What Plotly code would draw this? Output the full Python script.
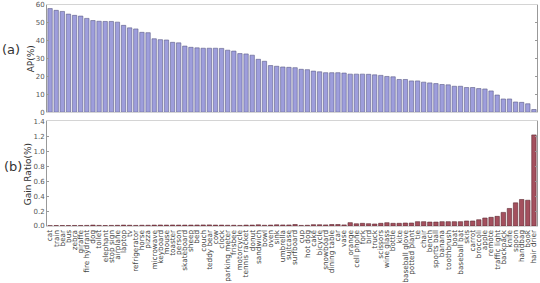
import plotly.graph_objects as go
from plotly.subplots import make_subplots

categories = ["cat", "train", "bear", "bus", "zebra", "giraffe", "fire hydrant", "dog", "toilet",
              "elephant", "stop sign", "airplane", "laptop", "tv", "refrigerator", "horse", "pizza",
              "microwave", "keyboard", "mouse", "toaster", "person", "skateboard", "sheep", "bed",
              "couch", "teddy bear", "cow", "clock", "parking meter", "frisbee", "motorcycle",
              "tennis racket", "donut", "sandwich", "bowl", "oven", "sink", "umbrella", "suitcase",
              "surfboard", "cup", "hot dog", "cake", "bicycle", "snowboard", "dining table", "car",
              "vase", "orange", "cell phone", "fork", "bird", "truck", "scissors", "wine glass",
              "bottle", "kite", "baseball glove", "potted plant", "tie", "chair", "bench",
              "sports ball", "banana", "toothbrush", "boat", "baseball bat", "skis", "carrot",
              "broccoli", "apple", "remote", "traffic light", "backpack", "knife", "spoon",
              "handbag", "book", "hair drier"]

ap_values = [58.0, 57.0, 56.4, 54.9, 54.2, 53.8, 52.5, 51.3, 50.9, 50.8, 50.8, 50.4, 48.6, 47.2,
             46.6, 44.7, 44.5, 41.1, 40.6, 40.4, 39.1, 38.8, 37.0, 36.3, 36.0, 35.8, 35.8, 35.8,
             35.7, 34.7, 34.2, 32.8, 32.6, 31.9, 29.6, 28.5, 26.1, 25.7, 25.3, 25.1, 24.9, 24.0,
             23.8, 23.0, 22.6, 22.1, 22.1, 22.1, 21.9, 21.3, 21.3, 21.3, 21.2, 20.9, 20.6, 20.0,
             19.8, 18.3, 18.3, 17.5, 17.5, 16.8, 16.4, 16.0, 15.5, 15.3, 14.5, 14.5, 13.8, 13.8,
             13.2, 13.0, 11.9, 9.6, 7.4, 7.4, 5.7, 5.5, 4.7, 1.5]

gain_values = [0.005, 0.006, 0.006, 0.006, 0.007, 0.007, 0.008, 0.012, 0.008, 0.006, 0.008,
               0.009, 0.012, 0.010, 0.008, 0.010, 0.010, 0.012, 0.013, 0.012, 0.013, 0.012,
               0.012, 0.012, 0.013, 0.014, 0.015, 0.012, 0.012, 0.010, 0.010, 0.008, 0.012,
               0.012, 0.016, 0.010, 0.012, 0.016, 0.014, 0.014, 0.020, 0.008, 0.010, 0.018,
               0.017, 0.015, 0.020, 0.020, 0.015, 0.045, 0.030, 0.036, 0.031, 0.027, 0.036,
               0.044, 0.036, 0.036, 0.040, 0.040, 0.058, 0.058, 0.053, 0.053, 0.058, 0.058,
               0.058, 0.058, 0.067, 0.067, 0.084, 0.107, 0.116, 0.129, 0.182, 0.235, 0.310,
               0.355, 0.345, 1.22]

ap_ticks = [0, 10, 20, 30, 40, 50, 60]
gain_ticks = [0.0, 0.2, 0.4, 0.6, 0.8, 1.0, 1.2, 1.4]

FONT = "DejaVu Sans"

fig = make_subplots(rows=2, cols=1, shared_xaxes=False, vertical_spacing=0.04)

fig.add_trace(go.Bar(x=categories, y=ap_values, width=0.72,
                     marker=dict(color="#9e9edc", line=dict(color="#5c5c86", width=0.6))),
              row=1, col=1)
fig.add_trace(go.Bar(x=categories, y=gain_values, width=0.72,
                     marker=dict(color="#a4505e", line=dict(color="#5e2a33", width=0.6))),
              row=2, col=1)

fig.update_layout(
    width=540, height=283,
    margin=dict(l=47, r=3, t=5, b=57, autoexpand=False),
    paper_bgcolor="white", plot_bgcolor="white",
    showlegend=False,
    font=dict(family=FONT, color="#444"),
    bargap=0.25,
    xaxis=dict(domain=[0, 1], anchor="y", range=[-0.5, 79.5], showticklabels=False,
               showline=True, mirror=True, linecolor="#d4d4d4", linewidth=1,
               ticks="", showgrid=False, type="category"),
    xaxis2=dict(domain=[0, 1], anchor="y2", range=[-0.5, 79.5], type="category",
                tickmode="array", tickvals=categories, ticktext=categories,
                tickangle=-90, tickfont=dict(size=7.3, color="#444", family=FONT),
                showline=True, mirror=True, linecolor="#d4d4d4", linewidth=1,
                ticks="", showgrid=False, automargin=False),
    yaxis=dict(domain=[0.515, 1.0], range=[0, 60], tickvals=ap_ticks,
               tickfont=dict(size=7, color="#555"), showgrid=False, zeroline=False,
               showline=True, mirror="ticks", linecolor="#999", linewidth=1,
               ticks="inside", ticklen=2, tickcolor="#999"),
    yaxis2=dict(domain=[0, 0.473], range=[0, 1.4], tickvals=gain_ticks, tickformat=".1f",
                tickfont=dict(size=7, color="#555"), showgrid=False, zeroline=False,
                showline=True, mirror="ticks", linecolor="#999", linewidth=1,
                ticks="inside", ticklen=2, tickcolor="#999"),
)

fig.add_annotation(text="AP(%)", x=-0.031, y=0.758, xref="paper", yref="paper",
                   textangle=-90, showarrow=False, font=dict(size=9, color="#333"),
                   xanchor="center", yanchor="middle")
fig.add_annotation(text="Gain Ratio(%)", x=-0.04, y=0.236, xref="paper", yref="paper",
                   textangle=-90, showarrow=False, font=dict(size=9, color="#333"),
                   xanchor="center", yanchor="middle")
fig.add_annotation(text="(a)", x=-0.095, y=0.8, xref="paper", yref="paper",
                   showarrow=False, font=dict(size=13, color="#333"),
                   xanchor="left", yanchor="middle")
fig.add_annotation(text="(b)", x=-0.092, y=0.27, xref="paper", yref="paper",
                   showarrow=False, font=dict(size=13, color="#333"),
                   xanchor="left", yanchor="middle")

fig.write_html("out.html", config={"displayModeBar": False},
               post_script="document.body.style.margin='0';document.body.style.padding='0';")
